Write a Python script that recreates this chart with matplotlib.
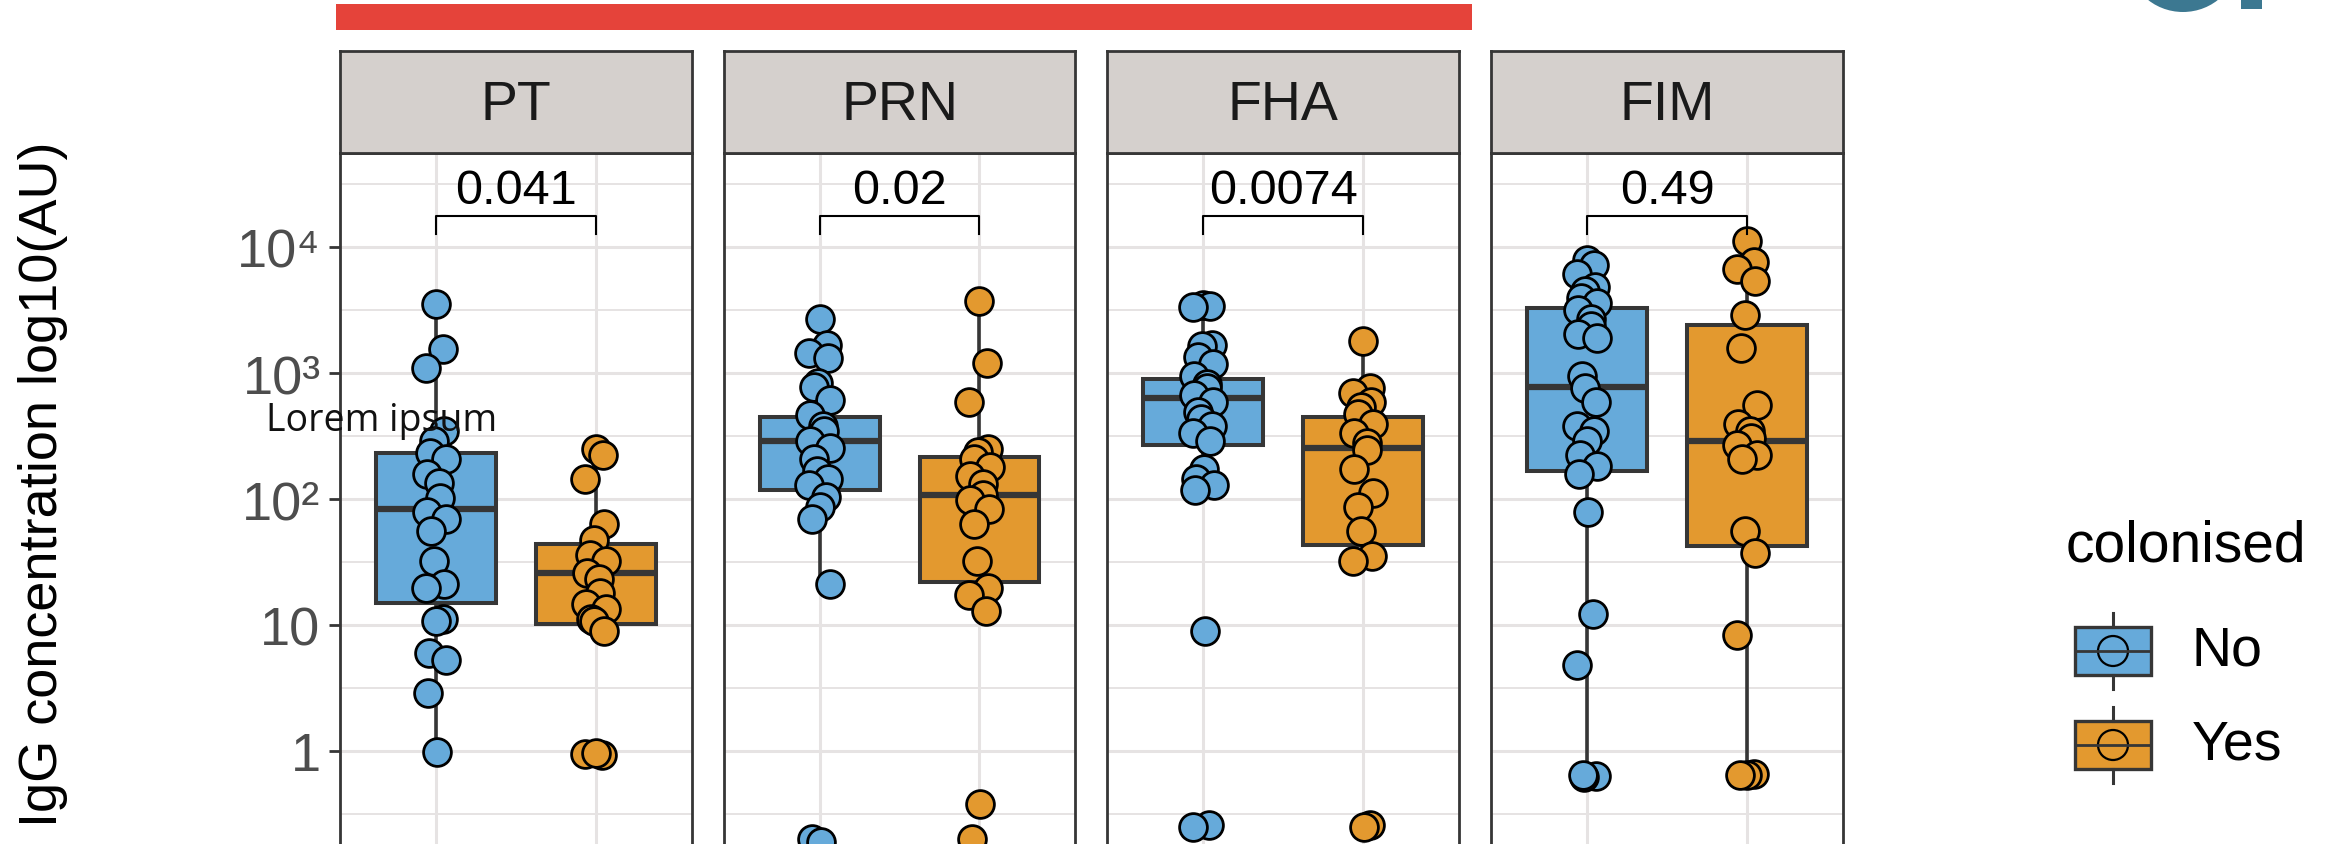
import numpy as np
import matplotlib
matplotlib.use("Agg")
import matplotlib.pyplot as plt
from matplotlib.patches import Rectangle, Circle, Ellipse

plt.rcParams['font.family'] = ['Liberation Sans', 'DejaVu Sans']

# antigen panels and p-values
antigens = ['PT', 'PRN', 'FHA', 'FIM']
p_values = ['0.041', '0.02', '0.0074', '0.49']
groups = ['No', 'Yes']

# IgG values (AU) per antigen, colonised = No / Yes
pt_no = [3550, 1550, 1100, 345, 290, 233, 206, 158, 133, 102, 79, 70, 56, 32, 21, 19.5, 11.2, 10.7, 6.0, 5.3, 2.9, 0.98]
pt_yes = [250, 224, 145, 63, 47, 36, 32, 26, 23, 18, 14.6, 13.3, 11.2, 10.7, 9.0, 0.95, 0.93, 0.96]
prn_no = [2700, 1660, 1450, 1320, 830, 770, 610, 465, 380, 347, 290, 256, 206, 166, 145, 128, 103, 87, 69, 21, 0.2, 0.19]
prn_yes = [3700, 1200, 590, 250, 235, 206, 180, 152, 132, 107, 98, 83, 63, 32, 19.6, 17.3, 12.8, 0.38, 0.2]
fha_no = [3450, 3400, 3350, 1670, 1640, 1330, 1170, 940, 825, 760, 665, 585, 492, 430, 380, 333, 290, 173, 145, 128, 117, 8.9, 0.26, 0.25]
fha_yes = [1800, 765, 690, 585, 535, 470, 395, 333, 280, 245, 173, 112, 87, 56, 35, 32, 0.26, 0.25]
fim_no = [7900, 7250, 6050, 4850, 4500, 3950, 3600, 3160, 2680, 2350, 2050, 1890, 940, 755, 585, 380, 347, 290, 224, 182, 159, 79, 12.3, 4.8, 0.63, 0.62, 0.64]
fim_yes = [11200, 7600, 6650, 5350, 2900, 1580, 560, 395, 347, 305, 267, 224, 206, 56, 37, 8.3, 0.66, 0.65, 0.64]

# box stats: q1, median, q3, lower whisker, upper whisker
pt_box = [(15, 83, 230, 0.98, 3550), (10.2, 26, 44, 9.0, 250)]
prn_box = [(117, 290, 445, 21, 2700), (22, 107, 214, 12.8, 3700)]
fha_box = [(270, 630, 890, 117, 3450), (43, 256, 445, 33, 1800)]
fim_box = [(166, 775, 3300, 0.63, 7900), (42, 290, 2400, 0.66, 11200)]

values = [(pt_no, pt_yes), (prn_no, prn_yes), (fha_no, fha_yes), (fim_no, fim_yes)]
boxes = [pt_box, prn_box, fha_box, fim_box]

colors = ['#66AADA', '#E3992F']
dark = '#363636'
grid_col = '#E6E3E3'

W, H = 2325, 845
fig = plt.figure(figsize=(W / 100, H / 100), dpi=100)
fig.patch.set_facecolor('white')


def px_box(x0, y0, w, h):
    # pixel rect (top-left origin) -> figure fraction
    return [x0 / W, (H - y0 - h) / H, w / W, h / H]


def spread(n):
    # small horizontal jitter so points do not sit on one line
    return 0.065 * np.sin(np.arange(n) * 2.4)


panel_left, panel_step, panel_w = 340, 383.7, 351.7
panel_top, panel_bot = 154, 900
strip_top = 51.7
y_lo, y_hi = 10 ** -1.1746, 10 ** 4.746

for i, name in enumerate(antigens):
    x0 = panel_left + i * panel_step
    ax = fig.add_axes(px_box(x0, panel_top, panel_w, panel_bot - panel_top))
    ax.set_yscale('log')
    ax.set_xlim(0.4, 2.6)
    ax.set_ylim(y_lo, y_hi)

    stats = []
    for g in range(2):
        q1, med, q3, lo, hi = boxes[i][g]
        stats.append(dict(q1=q1, med=med, q3=q3, whislo=lo, whishi=hi, fliers=[]))
    bp = ax.bxp(stats, positions=[1, 2], widths=0.75, patch_artist=True, showcaps=False,
                boxprops=dict(edgecolor=dark, linewidth=2.9),
                medianprops=dict(color=dark, linewidth=4.5),
                whiskerprops=dict(color=dark, linewidth=2.6), zorder=2)
    for patch, c in zip(bp['boxes'], colors):
        patch.set_facecolor(c)

    for g in range(2):
        v = values[i][g]
        xs = g + 1 + spread(len(v))
        ax.scatter(xs, v, s=400, facecolor=colors[g], edgecolor='black', linewidth=2.0, zorder=3)

    # significance bracket
    yb_top, yb_end = 10 ** 4.246, 10 ** 4.10
    ax.plot([1, 1, 2, 2], [yb_end, yb_top, yb_top, yb_end], color='black', lw=1.5, zorder=4)
    ax.text(1.5, 10 ** 4.35, p_values[i], ha='center', va='baseline', fontsize=35, color='black')

    ax.set_yticks([1, 10, 100, 1000, 10000])
    ax.set_yticks([10 ** (k + 0.5) for k in range(-1, 5)], minor=True)
    ax.set_xticks([1, 2])
    ax.set_xticklabels([])
    ax.tick_params(axis='x', length=0)
    ax.tick_params(axis='y', which='minor', length=0, labelleft=False)
    ax.grid(which='major', color=grid_col, lw=2.2, zorder=0)
    ax.grid(which='minor', axis='y', color=grid_col, lw=1.4, zorder=0)
    ax.set_axisbelow(True)
    for sp in ax.spines.values():
        sp.set_color(dark)
        sp.set_linewidth(2)
    if i == 0:
        ax.set_yticklabels(['1', '10', '10²', '10³', '10⁴'])
        ax.tick_params(axis='y', which='major', length=8, width=2, color=dark,
                       labelsize=39, labelcolor='#4D4D4D', pad=6)
    else:
        ax.tick_params(axis='y', which='major', length=0, labelleft=False)

    # facet strip
    sx = fig.add_axes(px_box(x0, strip_top, panel_w, panel_top - strip_top))
    sx.set_facecolor('#D5D0CD')
    sx.set_xticks([])
    sx.set_yticks([])
    for sp in sx.spines.values():
        sp.set_color(dark)
        sp.set_linewidth(2)
    sx.text(0.5, 0.47, name, ha='center', va='center', fontsize=40, color='#1A1A1A',
            transform=sx.transAxes)

# overlay in pixel coordinates for bar, labels, legend and logo
ov = fig.add_axes([0, 0, 1, 1])
ov.set_xlim(0, W)
ov.set_ylim(H, 0)
ov.axis('off')

ov.add_patch(Rectangle((336, 5), 1472 - 336, 26, facecolor='#E5433A', edgecolor='none'))
ov.text(43, 484, 'IgG concentration log10(AU)', rotation=90, ha='center', va='center',
        fontsize=39, color='black')
ov.text(382, 421, 'Lorem ipsum', ha='center', va='center', fontsize=27,
        family=['Open Sans', 'DejaVu Sans'], color='#111111')

# partial logo at the top edge
ov.add_patch(Ellipse((2183, -40), 110, 106, facecolor='#3C7891', edgecolor='none'))
ov.add_patch(Rectangle((2241, -5), 21, 15, facecolor='#3C7891', edgecolor='none'))

# legend
ov.text(2066, 547, 'colonised', ha='left', va='center', fontsize=41, color='black')
for label, c, yc in zip(groups, colors, [652, 746]):
    ov.plot([2113, 2113], [yc - 38, yc - 24], color=dark, lw=2.2)
    ov.plot([2113, 2113], [yc + 24, yc + 38], color=dark, lw=2.2)
    ov.add_patch(Rectangle((2075, yc - 24), 76, 48, facecolor=c, edgecolor=dark, lw=2.4))
    ov.plot([2075, 2151], [yc, yc], color=dark, lw=2.0)
    ov.add_patch(Circle((2113, yc), 15, facecolor=c, edgecolor='black', lw=1.6))
    ov.text(2192, yc, label, ha='left', va='center', fontsize=40, color='black')

fig.savefig('out.png', dpi=100)
